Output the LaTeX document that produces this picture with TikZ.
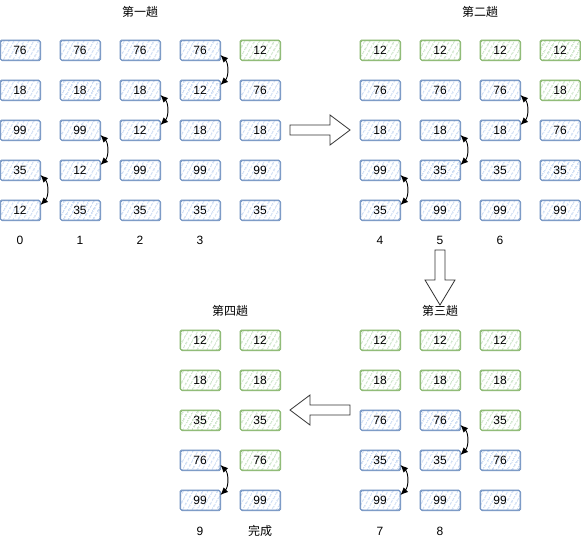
\documentclass[tikz,border=0pt]{standalone}
\usepackage{fontspec}
\setmainfont{Liberation Sans}
\newfontfamily\cjk{Noto Sans CJK SC}
\usetikzlibrary{patterns.meta,arrows.meta}
\definecolor{blueS}{HTML}{6C8EBF}
\definecolor{blueF}{HTML}{B4CCEE}
\definecolor{greenS}{HTML}{82B366}
\definecolor{greenF}{HTML}{B5D8B1}
\tikzset{
  cell/.style={minimum width=40pt, minimum height=20pt, inner sep=0pt,
    rounded corners=1.5pt, line width=1pt,
    font=\fontsize{12}{14}\selectfont,
    pattern={Lines[angle=60,distance=4pt,line width=1pt]}},
  bb/.style={cell, draw=blueS, pattern color=blueF,
    postaction={draw=blueS, line width=0.6pt, rounded corners=1.5pt, transform canvas={shift={(0.7pt,-0.7pt)}}}},
  gb/.style={cell, draw=greenS, pattern color=greenF,
    postaction={draw=greenS, line width=0.6pt, rounded corners=1.5pt, transform canvas={shift={(0.7pt,-0.7pt)}}}},
  lbl/.style={font=\fontsize{12}{14}\selectfont, inner sep=0pt},
  ttl/.style={font=\cjk\fontsize{12}{14}\selectfont, inner sep=0pt},
  swap/.style={{Latex[length=7.5pt,width=6.5pt]}-{Latex[length=7.5pt,width=6.5pt]}, line width=0.9pt, bend left=45},
  bigarrow/.style={draw=black!80, fill=white, line width=0.8pt, line join=miter}
}
\begin{document}
\begin{tikzpicture}[x=1pt,y=-1pt]
\useasboundingbox (0,0) rectangle (581,541);
% titles
\node[ttl] (t1) at (140,12) {第一趟};
\node[ttl] (t2) at (480,12) {第二趟};
\node[ttl] (t3) at (440,311) {第三趟};
\node[ttl] (t4) at (230,311) {第四趟};
% group 1
\node[bb] (a0) at (20,50) {76};
\node[bb] (a1) at (20,90) {18};
\node[bb] (a2) at (20,130) {99};
\node[bb] (a3) at (20,170) {35};
\node[bb] (a4) at (20,210) {12};
\node[bb] (b0) at (80,50) {76};
\node[bb] (b1) at (80,90) {18};
\node[bb] (b2) at (80,130) {99};
\node[bb] (b3) at (80,170) {12};
\node[bb] (b4) at (80,210) {35};
\node[bb] (c0) at (140,50) {76};
\node[bb] (c1) at (140,90) {18};
\node[bb] (c2) at (140,130) {12};
\node[bb] (c3) at (140,170) {99};
\node[bb] (c4) at (140,210) {35};
\node[bb] (d0) at (200,50) {76};
\node[bb] (d1) at (200,90) {12};
\node[bb] (d2) at (200,130) {18};
\node[bb] (d3) at (200,170) {99};
\node[bb] (d4) at (200,210) {35};
\node[gb] (e0) at (260,50) {12};
\node[bb] (e1) at (260,90) {76};
\node[bb] (e2) at (260,130) {18};
\node[bb] (e3) at (260,170) {99};
\node[bb] (e4) at (260,210) {35};
% group 2
\node[gb] (f0) at (380,50) {12};
\node[bb] (f1) at (380,90) {76};
\node[bb] (f2) at (380,130) {18};
\node[bb] (f3) at (380,170) {99};
\node[bb] (f4) at (380,210) {35};
\node[gb] (g0) at (440,50) {12};
\node[bb] (g1) at (440,90) {76};
\node[bb] (g2) at (440,130) {18};
\node[bb] (g3) at (440,170) {35};
\node[bb] (g4) at (440,210) {99};
\node[gb] (h0) at (500,50) {12};
\node[bb] (h1) at (500,90) {76};
\node[bb] (h2) at (500,130) {18};
\node[bb] (h3) at (500,170) {35};
\node[bb] (h4) at (500,210) {99};
\node[gb] (i0) at (560,50) {12};
\node[gb] (i1) at (560,90) {18};
\node[bb] (i2) at (560,130) {76};
\node[bb] (i3) at (560,170) {35};
\node[bb] (i4) at (560,210) {99};
% group 3
\node[gb] (j0) at (380,340) {12};
\node[gb] (j1) at (380,380) {18};
\node[bb] (j2) at (380,420) {76};
\node[bb] (j3) at (380,460) {35};
\node[bb] (j4) at (380,500) {99};
\node[gb] (k0) at (440,340) {12};
\node[gb] (k1) at (440,380) {18};
\node[bb] (k2) at (440,420) {76};
\node[bb] (k3) at (440,460) {35};
\node[bb] (k4) at (440,500) {99};
\node[gb] (l0) at (500,340) {12};
\node[gb] (l1) at (500,380) {18};
\node[gb] (l2) at (500,420) {35};
\node[bb] (l3) at (500,460) {76};
\node[bb] (l4) at (500,500) {99};
% group 4
\node[gb] (m0) at (200,340) {12};
\node[gb] (m1) at (200,380) {18};
\node[gb] (m2) at (200,420) {35};
\node[bb] (m3) at (200,460) {76};
\node[bb] (m4) at (200,500) {99};
\node[gb] (n0) at (260,340) {12};
\node[gb] (n1) at (260,380) {18};
\node[gb] (n2) at (260,420) {35};
\node[gb] (n3) at (260,460) {76};
\node[bb] (n4) at (260,500) {99};
% labels
\node[lbl] (L0) at (20,240) {0};
\node[lbl] (L1) at (80,240) {1};
\node[lbl] (L2) at (140,240) {2};
\node[lbl] (L3) at (200,240) {3};
\node[lbl] (L4) at (380,240) {4};
\node[lbl] (L5) at (440,240) {5};
\node[lbl] (L6) at (500,240) {6};
\node[lbl] (L7) at (380,531) {7};
\node[lbl] (L8) at (440,531) {8};
\node[lbl] (L9) at (200,531) {9};
\node[ttl] (L10) at (260,531) {完成};
% swaps
\draw[swap] ([yshift=-5pt]d0.east) to ([yshift=5pt]d1.east);
\draw[swap] ([yshift=-5pt]c1.east) to ([yshift=5pt]c2.east);
\draw[swap] ([yshift=-5pt]b2.east) to ([yshift=5pt]b3.east);
\draw[swap] ([yshift=-5pt]a3.east) to ([yshift=5pt]a4.east);
\draw[swap] ([yshift=-5pt]h1.east) to ([yshift=5pt]h2.east);
\draw[swap] ([yshift=-5pt]g2.east) to ([yshift=5pt]g3.east);
\draw[swap] ([yshift=-5pt]f3.east) to ([yshift=5pt]f4.east);
\draw[swap] ([yshift=-5pt]k2.east) to ([yshift=5pt]k3.east);
\draw[swap] ([yshift=-5pt]j3.east) to ([yshift=5pt]j4.east);
\draw[swap] ([yshift=-5pt]m3.east) to ([yshift=5pt]m4.east);
% big arrows
\draw[bigarrow] (290,125) -- (330,125) -- (330,115) -- (350,130) -- (330,145) -- (330,135) -- (290,135) -- cycle;
\draw[bigarrow] (435,250) -- (445,250) -- (445,280) -- (455,280) -- (440,305) -- (425,280) -- (435,280) -- cycle;
\draw[bigarrow] (350,405) -- (310,405) -- (310,395) -- (290,410) -- (310,425) -- (310,415) -- (350,415) -- cycle;
\end{tikzpicture}
\end{document}
